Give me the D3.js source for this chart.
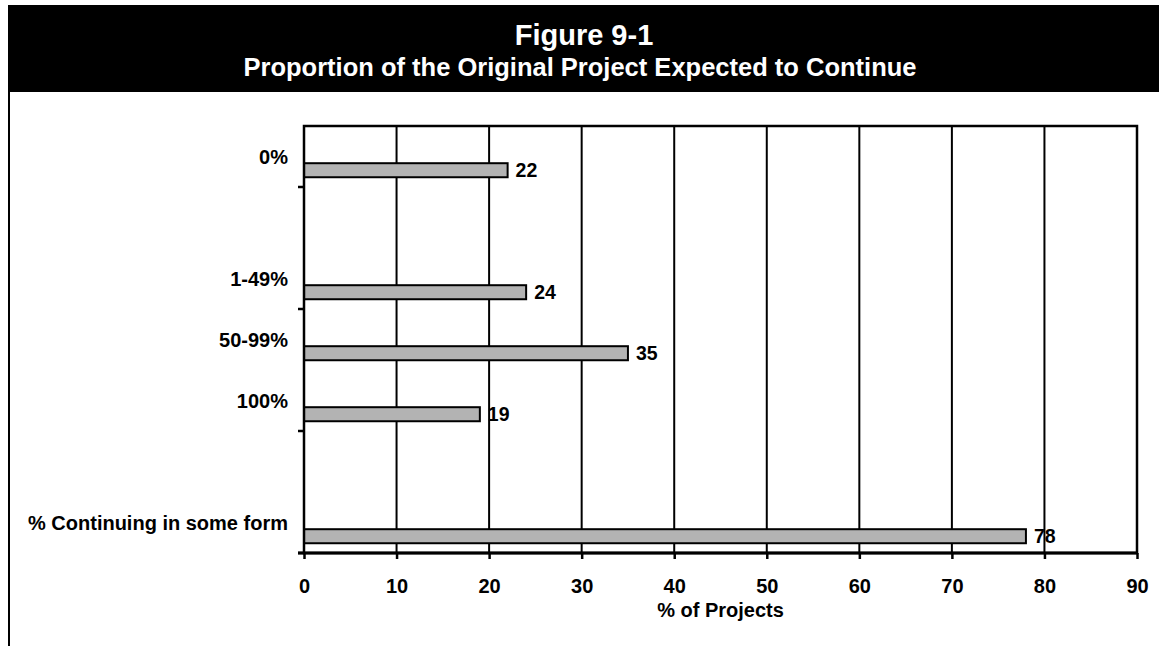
<!DOCTYPE html>
<html>
<head>
<meta charset="utf-8">
<script src="https://cdn.jsdelivr.net/npm/d3@7/dist/d3.min.js"></script>
<style>
  html, body { margin: 0; padding: 0; background: #fff; }
  svg { display: block; font-family: "Liberation Sans", Arial, sans-serif; font-weight: bold; }
</style>
</head>
<body>
<svg id="chart" width="1159" height="646"></svg>
<script>
// ---- data ----
const titleText = "Figure 9-1";
const subtitleText = "Proportion of the Original Project Expected to Continue";
const categories = ["0%", "", "1-49%", "50-99%", "100%", "", "% Continuing in some form"];
const values = [22, null, 24, 35, 19, null, 78];
const xTicks = [0, 10, 20, 30, 40, 50, 60, 70, 80, 90];
const xTitle = "% of Projects";

// ---- layout ----
const W = 1159, H = 646;
const plot = { left: 304, right: 1137, top: 126, bottom: 553 };

const svg = d3.select("#chart");

// header
svg.append("rect").attr("x", 8).attr("y", 5).attr("width", W - 8).attr("height", 87).attr("fill", "#000");
svg.append("text").attr("x", 584).attr("y", 45).attr("text-anchor", "middle")
  .attr("fill", "#fff").attr("font-size", 29).text(titleText);
svg.append("text").attr("x", 580).attr("y", 76).attr("text-anchor", "middle")
  .attr("fill", "#fff").attr("font-size", 25.5).text(subtitleText);

// left frame border
svg.append("line").attr("x1", 9).attr("x2", 9).attr("y1", 92).attr("y2", H)
  .attr("stroke", "#000").attr("stroke-width", 2);

// scales
const x = d3.scaleLinear().domain([0, 90]).range([plot.left, plot.right]);
const idx = categories.map((d, i) => i);
const y = d3.scaleBand().domain(idx).range([plot.top, plot.bottom]).paddingInner(0).paddingOuter(0);
const bw = y.bandwidth();

// gridlines
svg.append("g").selectAll("line").data(xTicks.filter(t => t > 0 && t < 90)).join("line")
  .attr("x1", d => x(d)).attr("x2", d => x(d))
  .attr("y1", plot.top).attr("y2", plot.bottom)
  .attr("stroke", "#000").attr("stroke-width", 2);

// bars
const data = idx.filter(i => values[i] != null).map(i => ({ i, cat: categories[i], v: values[i] }));
svg.append("g").selectAll("rect").data(data).join("rect")
  .attr("x", x(0))
  .attr("y", d => y(d.i) + bw * 0.61)
  .attr("width", d => x(d.v) - x(0))
  .attr("height", bw * 0.23)
  .attr("fill", "#b3b3b3").attr("stroke", "#000").attr("stroke-width", 2);

// value labels
svg.append("g").selectAll("text").data(data).join("text")
  .attr("x", d => x(d.v) + 8)
  .attr("y", d => y(d.i) + bw * 0.725)
  .attr("dominant-baseline", "central")
  .attr("font-size", 19.5).attr("fill", "#000")
  .text(d => d.v);

// plot border
svg.append("rect").attr("x", plot.left).attr("y", plot.top)
  .attr("width", plot.right - plot.left).attr("height", plot.bottom - plot.top)
  .attr("fill", "none").attr("stroke", "#000").attr("stroke-width", 2.5);

// category labels
svg.append("g").selectAll("text").data(idx.filter(i => categories[i] !== "")).join("text")
  .attr("x", 288)
  .attr("y", i => y(i) + bw / 2)
  .attr("text-anchor", "end")
  .attr("dominant-baseline", "central")
  .attr("font-size", 20).attr("fill", "#000")
  .text(i => categories[i]);

// y tick marks: every other category boundary counted from the bottom
const yTickBounds = d3.range(0, categories.length, 2).map(k => plot.bottom - k * bw);
svg.append("g").selectAll("line").data(yTickBounds).join("line")
  .attr("x1", plot.left - 6).attr("x2", plot.left)
  .attr("y1", d => d).attr("y2", d => d)
  .attr("stroke", "#000").attr("stroke-width", 2.5);

// x axis
const xAxis = d3.axisBottom(x).tickValues(xTicks).tickSize(6).tickPadding(19.5).tickFormat(d3.format("d"));
const gx = svg.append("g").attr("transform", `translate(0,${plot.bottom})`).call(xAxis);
gx.select(".domain").remove();
gx.selectAll(".tick line").attr("stroke", "#000").attr("stroke-width", 2.5);
gx.selectAll(".tick text").attr("font-size", 20).attr("fill", "#000")
  .attr("font-family", "'Liberation Sans', Arial, sans-serif").attr("font-weight", "bold");
svg.append("line").attr("x1", plot.left - 6).attr("x2", plot.right)
  .attr("y1", plot.bottom).attr("y2", plot.bottom)
  .attr("stroke", "#000").attr("stroke-width", 3);

// x title
svg.append("text").attr("x", (plot.left + plot.right) / 2).attr("y", 617)
  .attr("text-anchor", "middle").attr("font-size", 20).attr("fill", "#000").text(xTitle);
</script>
</body>
</html>
